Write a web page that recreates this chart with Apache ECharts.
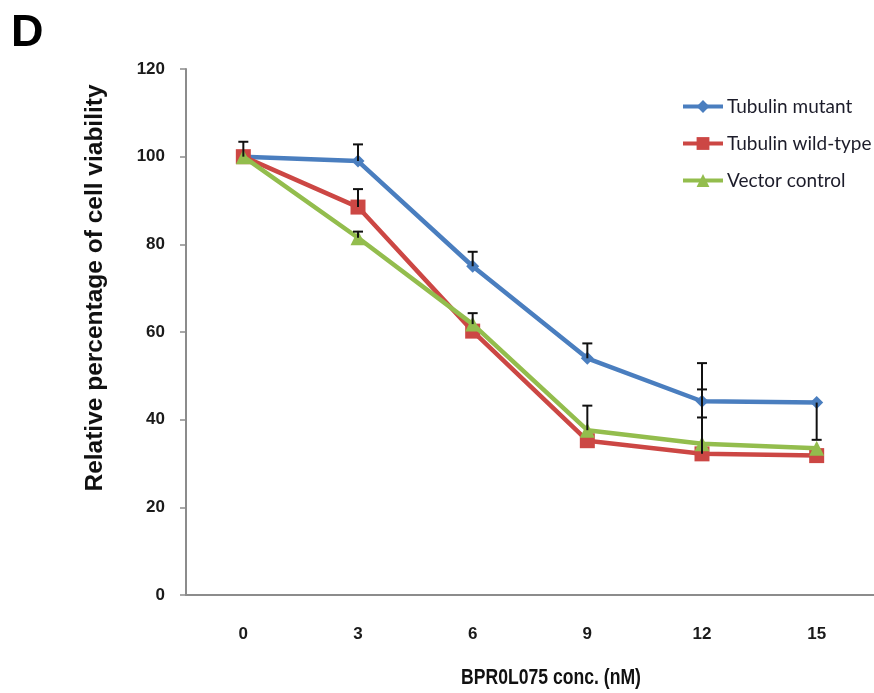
<!DOCTYPE html>
<html>
<head>
<meta charset="utf-8">
<script src="https://cdn.jsdelivr.net/npm/echarts@6/dist/echarts.min.js"></script>
<style>
  html, body { margin: 0; padding: 0; background: #fff; }
  #chart { width: 874px; height: 693px; }
</style>
</head>
<body>
<div id="chart"></div>
<script>
// data
const concLabels = ["0", "3", "6", "9", "12", "15"];
const mutant = [100, 99, 75, 54, 44.2, 43.9];
const wildType = [100, 88.5, 60.2, 35.2, 32.2, 31.8];
const vector = [100, 81.5, 61.8, 37.6, 34.5, 33.5];

// error bar end values (whisker drawn from the point to this value)
const mutantErrEnd = [103.4, 102.8, 78.3, 57.4, 52.9, 35.4];
const wildTypeErrEnd = [null, 92.6, null, null, 40.5, null];
const vectorErrEnd = [null, 82.9, 64.3, 43.2, 46.9, null];

const fontArial = "'Liberation Sans', Arial, sans-serif";
const fontLegend = "Lato, 'Open Sans', sans-serif";

function errData(vals, ends) {
  const out = [];
  vals.forEach((v, i) => {
    if (ends[i] != null) out.push([i, v, ends[i]]);
  });
  return out;
}

const errorBars = []
  .concat(errData(mutant, mutantErrEnd))
  .concat(errData(wildType, wildTypeErrEnd))
  .concat(errData(vector, vectorErrEnd));

const chart = echarts.init(document.getElementById("chart"));

const option = {
  animation: false,
  backgroundColor: "#fff",
  grid: {
    left: 186,
    right: -6,
    top: 69,
    bottom: 98,
  },
  legend: {
    orient: "vertical",
    left: 676,
    top: 92,
    itemWidth: 40,
    itemHeight: 16,
    itemGap: 18,
    lineStyle: { width: 4 },
    textStyle: {
      fontFamily: fontLegend,
      fontSize: 19,
      color: "#1c1c2a",
      padding: [0, 0, 0, -1],
    },
    data: ["Tubulin mutant", "Tubulin wild-type", "Vector control"],
  },
  graphic: [
    {
      type: "text",
      left: 11,
      top: 11,
      style: {
        text: "D",
        font: "bold 45px " + fontArial,
        fill: "#000",
      },
    },
    {
      type: "text",
      x: 95,
      y: 288,
      rotation: Math.PI / 2,
      style: {
        text: "Relative percentage of cell viability",
        font: "bold 24.5px " + fontArial,
        fill: "#111",
        textAlign: "center",
        textVerticalAlign: "middle",
      },
    },
    {
      type: "text",
      x: 551,
      y: 678,
      scaleX: 0.8,
      style: {
        text: "BPR0L075 conc. (nM)",
        font: "bold 22px " + fontArial,
        fill: "#111",
        textAlign: "center",
        textVerticalAlign: "middle",
      },
    },
  ],
  xAxis: {
    type: "category",
    data: concLabels,
    axisLine: {
      lineStyle: { color: "#8c8c8c", width: 2 },
    },
    axisTick: {
      length: 6,
      lineStyle: { color: "#8c8c8c", width: 1.5 },
    },
    axisLabel: {
      margin: 31,
      fontFamily: fontArial,
      fontWeight: "bold",
      fontSize: 17,
      color: "#1a1a1a",
    },
  },
  yAxis: {
    type: "value",
    min: 0,
    max: 120,
    interval: 20,
    splitLine: { show: false },
    axisLine: {
      show: true,
      lineStyle: { color: "#8c8c8c", width: 2 },
    },
    axisTick: {
      show: true,
      length: 6,
      lineStyle: { color: "#8c8c8c", width: 1.5 },
    },
    axisLabel: {
      margin: 21,
      fontFamily: fontArial,
      fontWeight: "bold",
      fontSize: 17,
      color: "#1a1a1a",
    },
  },
  series: [
    {
      name: "Tubulin mutant",
      type: "line",
      data: mutant,
      symbol: "diamond",
      symbolSize: 13,
      lineStyle: { color: "#4a7ebf", width: 4.5 },
      itemStyle: { color: "#4a7ebf" },
      z: 2,
    },
    {
      name: "Tubulin wild-type",
      type: "line",
      data: wildType,
      symbol: "rect",
      symbolSize: 15,
      lineStyle: { color: "#cc4744", width: 4.5 },
      itemStyle: { color: "#cc4744" },
      z: 3,
    },
    {
      name: "Vector control",
      type: "line",
      data: vector,
      symbol: "triangle",
      symbolSize: 15,
      lineStyle: { color: "#93bd4d", width: 4.5 },
      itemStyle: { color: "#93bd4d" },
      z: 4,
    },
    {
      name: "errors",
      type: "custom",
      data: errorBars,
      z: 5,
      renderItem: function (params, api) {
        const x = api.value(0);
        const p0 = api.coord([x, api.value(1)]);
        const p1 = api.coord([x, api.value(2)]);
        const cap = 5;
        const style = { stroke: "#111", lineWidth: 2 };
        return {
          type: "group",
          children: [
            {
              type: "line",
              shape: { x1: p0[0], y1: p0[1], x2: p1[0], y2: p1[1] },
              style: style,
            },
            {
              type: "line",
              shape: { x1: p1[0] - cap, y1: p1[1], x2: p1[0] + cap, y2: p1[1] },
              style: style,
            },
          ],
        };
      },
    },
  ],
};

chart.setOption(option);
</script>
</body>
</html>
